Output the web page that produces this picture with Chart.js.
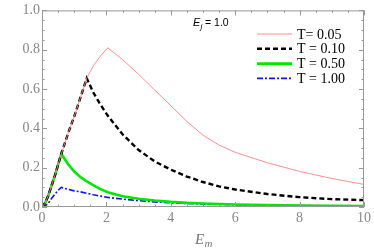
<!DOCTYPE html>
<html>
<head>
<meta charset="utf-8">
<script src="https://cdn.jsdelivr.net/npm/chart.js@4"></script>
<style>
  html, body { margin: 0; padding: 0; background: #fff; }
  #wrap { width: 374px; height: 248px; }
</style>
</head>
<body>
<div id="wrap"><canvas id="chart" width="374" height="248"></canvas></div>
<script>
// Em grid shared by all curves
var emVals = [0, 0.1, 0.2, 0.3, 0.4, 0.5, 0.6, 0.8, 1.0, 1.2, 1.39, 1.6, 1.8, 2.04, 2.5, 3, 3.5, 4, 4.5, 5, 5.5, 6, 7, 8, 9, 10];

var t005 = [0, 0.02, 0.06, 0.11, 0.16, 0.215, 0.27, 0.37, 0.46, 0.56, 0.655, 0.72, 0.765, 0.81, 0.75, 0.675, 0.595, 0.515, 0.435, 0.365, 0.315, 0.278, 0.225, 0.181, 0.145, 0.115];
var t010 = [0, 0.02, 0.06, 0.11, 0.16, 0.215, 0.27, 0.37, 0.46, 0.56, 0.655, 0.58, 0.525, 0.465, 0.37, 0.29, 0.232, 0.19, 0.155, 0.127, 0.105, 0.089, 0.066, 0.05, 0.04, 0.035];
var t050 = [0, 0.02, 0.06, 0.11, 0.16, 0.215, 0.27, 0.22, 0.18, 0.152, 0.13, 0.11, 0.092, 0.075, 0.055, 0.042, 0.033, 0.026, 0.021, 0.018, 0.015, 0.013, 0.01, 0.008, 0.006, 0.005];
var t100 = [0, 0.005, 0.02, 0.045, 0.065, 0.085, 0.10, 0.09, 0.082, 0.077, 0.07, 0.062, 0.056, 0.049, 0.04, 0.032, 0.026, 0.021, 0.018, 0.015, 0.013, 0.011, 0.009, 0.007, 0.006, 0.005];

var seriesLabels = ["T= 0.05", "T = 0.10", "T = 0.50", "T = 1.00"];
var xTicks = [0, 2, 4, 6, 8, 10];
var yTicks = [0, 0.2, 0.4, 0.6, 0.8, 1.0];

function pts(ys) {
  return emVals.map(function (x, i) { return { x: x, y: ys[i] }; });
}

var styles = [
  { color: "rgb(255,130,130)", width: 0.9, dash: [] },
  { color: "#000", width: 2.4, dash: [5, 3] },
  { color: "rgb(0,230,0)", width: 2.6, dash: [] },
  { color: "rgb(20,20,230)", width: 1.6, dash: [6, 2, 2, 2] }
];

var allData = [t005, t010, t050, t100];
var datasets = allData.map(function (d, i) {
  return {
    label: seriesLabels[i],
    data: pts(d),
    borderColor: styles[i].color,
    borderWidth: styles[i].width,
    borderDash: styles[i].dash,
    pointRadius: 0,
    tension: 0,
    fill: false
  };
});

var frameColor = "#999";
var serif = "'Times New Roman', 'Liberation Serif', serif";
Chart.defaults.font.family = serif;

// frame, inward ticks, legend and labels
var decor = {
  id: "decor",
  afterDraw: function (chart) {
    var ctx = chart.ctx;
    var a = chart.chartArea;
    var xs = chart.scales.x, ys = chart.scales.y;
    ctx.save();
    ctx.strokeStyle = frameColor;
    ctx.lineWidth = 1;
    ctx.setLineDash([]);
    ctx.strokeRect(a.left + 0.5, a.top + 0.5, a.right - a.left - 1, a.bottom - a.top - 1);
    ctx.beginPath();
    for (var v = 0; v <= 10.001; v += 0.5) {
      var px = Math.round(xs.getPixelForValue(v)) + 0.5;
      var L = (Math.abs(v - Math.round(v / 2) * 2) < 1e-6) ? 5 : 2.5;
      ctx.moveTo(px, a.bottom); ctx.lineTo(px, a.bottom - L);
      ctx.moveTo(px, a.top); ctx.lineTo(px, a.top + L);
    }
    for (var w = 0; w <= 1.0001; w += 0.05) {
      var py = Math.round(ys.getPixelForValue(w)) + 0.5;
      var major = Math.abs(w * 5 - Math.round(w * 5)) < 1e-6;
      var L2 = major ? 5 : 2.5;
      ctx.moveTo(a.left, py); ctx.lineTo(a.left + L2, py);
      ctx.moveTo(a.right, py); ctx.lineTo(a.right - L2, py);
    }
    ctx.stroke();

    // legend
    var lx0 = 257, lx1 = 292, ly = 34;
    ctx.font = "14px " + serif;
    ctx.textBaseline = "middle";
    ctx.textAlign = "left";
    for (var i = 0; i < seriesLabels.length; i++) {
      var y = ly + i * 14.8;
      ctx.beginPath();
      ctx.strokeStyle = styles[i].color;
      ctx.lineWidth = styles[i].width;
      ctx.setLineDash(styles[i].dash);
      ctx.moveTo(lx0, y); ctx.lineTo(lx1, y);
      ctx.stroke();
      ctx.setLineDash([]);
      ctx.fillStyle = "#000";
      ctx.fillText(seriesLabels[i], 297, y + 1);
    }

    // E_j = 1.0
    ctx.fillStyle = "#000";
    ctx.textBaseline = "alphabetic";
    ctx.font = "italic 11px 'Liberation Sans', Arial, sans-serif";
    ctx.fillText("E", 193, 26);
    ctx.font = "italic 8px 'Liberation Sans', Arial, sans-serif";
    ctx.fillText("j", 200.5, 29);
    ctx.font = "10.5px 'Liberation Sans', Arial, sans-serif";
    ctx.fillText("= 1.0", 205, 26);

    // x axis title E_m
    ctx.fillStyle = "#777";
    ctx.font = "italic 15px " + serif;
    ctx.fillText("E", 195, 244);
    ctx.font = "italic 11px " + serif;
    ctx.fillText("m", 204.5, 247);
    ctx.restore();
  }
};

new Chart(document.getElementById("chart"), {
  type: "line",
  data: { datasets: datasets },
  options: {
    responsive: false,
    animation: false,
    layout: { padding: { top: 7, right: 9, left: 0, bottom: 0 } },
    plugins: {
      legend: { display: false },
      tooltip: { enabled: false }
    },
    scales: {
      x: {
        type: "linear",
        min: 0, max: 10,
        afterFit: function (s) { s.height = 41; },
        afterBuildTicks: function (s) { s.ticks = xTicks.map(function (v) { return { value: v }; }); },
        grid: { display: false, drawTicks: false },
        border: { display: false },
        ticks: {
          color: "#888",
          padding: 3,
          font: { family: serif, size: 14 },
          maxRotation: 0,
          callback: function (v) { return String(v); }
        }
      },
      y: {
        min: 0, max: 1.0,
        afterFit: function (s) { s.width = 42; },
        afterBuildTicks: function (s) { s.ticks = yTicks.map(function (v) { return { value: v }; }); },
        grid: { display: false, drawTicks: false },
        border: { display: false },
        ticks: {
          color: "#888",
          padding: 2,
          font: { family: serif, size: 14 },
          callback: function (v) { return Number(v).toFixed(1); }
        }
      }
    }
  },
  plugins: [decor]
});
</script>
</body>
</html>
